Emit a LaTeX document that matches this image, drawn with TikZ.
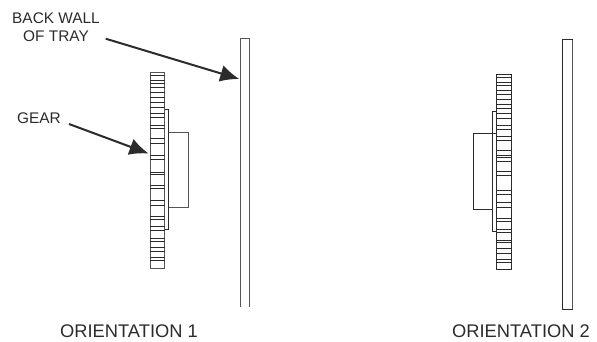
\documentclass[tikz,border=0pt]{standalone}
\usepackage{fontspec}
\setmainfont{Liberation Sans}
\usetikzlibrary{arrows.meta}
\definecolor{ink}{HTML}{2B2B2B}
\definecolor{soft}{HTML}{555555}
\tikzset{
  label text/.style={font=\fontsize{15.4}{18}\selectfont,text=ink,inner sep=0pt,align=center},
  caption text/.style={font=\fontsize{18.3}{20}\selectfont,text=ink,inner sep=0pt},
  part/.style={draw=soft,line width=0.9pt},
  darkpart/.style={draw=ink,line width=0.8pt},
  tooth/.style={draw=ink,line width=0.75pt},
  pointer/.style={draw=ink,line width=2pt,-{Latex[length=19pt,width=17pt]}}
}
\begin{document}
\begin{tikzpicture}[x=1pt,y=-1pt]
\useasboundingbox (0,0) rectangle (597,341);
% Orientation 1
\draw[part] (240,306.7) -- (240,38.7) -- (249,38.7) -- (249,306.7);
\draw[part] (168.7,132) -- (188,132) -- (188,207.7) -- (168.7,207.7);
\draw[darkpart] (164.7,109.3) rectangle (168.7,229.7);
\draw[part,fill=white] (150,72.7) rectangle (164.7,268);
\foreach \y in {75,80,83.5,87.5,92.5,97.5,102.5,107.5,113.5,117.5,125,128.5,138.5,143.5,155,159.5,172,174,185,188.5,200.5,205.5,216,219.5,226.5,230,238,241,247,251.5,257,260}
  \draw[tooth] (150,\y) -- (164.7,\y);
% Orientation 2
\draw[darkpart] (562.7,39.7) rectangle (572,309);
\draw[draw=soft,line width=1pt] (572,39.7) -- (572,309);
\draw[darkpart] (496.7,133.7) -- (473.3,133.7) -- (473.3,209.7) -- (492.7,209.7);
\draw[darkpart] (496.7,111) -- (492.7,111) -- (492.7,231.7) -- (496.7,231.7);
\draw[darkpart,fill=white] (496.7,74.7) rectangle (511.3,269.3);
\foreach \y in {77.5,82,85,90,94,99,104,108.5,113.5,118.5,125,129.5,136.5,140,150,155,157.5,161,171.7,175,190,194,202.5,207,218.5,221.7,229,232.3,240,242.7,248.3,253.3,259,262.3}
  \draw[tooth] (496.7,\y) -- (511.3,\y);
% Labels
\node[label text] (wall label) at (56,27) {BACK WALL\\OF TRAY};
\node[label text] (gear label) at (39,118) {GEAR};
\node[caption text] (orient one) at (129,331) {ORIENTATION 1};
\node[caption text] (orient two) at (521,331) {ORIENTATION 2};
% Pointers
\coordinate (wall start) at (105.7,38.7);
\coordinate (wall tip) at (239.3,79);
\coordinate (gear start) at (69,124);
\coordinate (gear tip) at (148.5,153.5);
\draw[pointer] (wall start) -- (wall tip);
\draw[pointer] (gear start) -- (gear tip);
\end{tikzpicture}
\end{document}
